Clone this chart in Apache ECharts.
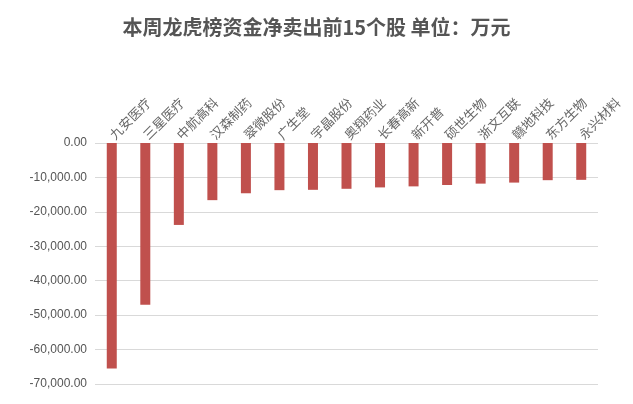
<!DOCTYPE html><html><head><meta charset="utf-8"><script src="https://cdn.jsdelivr.net/npm/echarts@6/dist/echarts.min.js"></script></head><body style="margin:0"><div id="c" style="width:633px;height:404px"></div><script>
const categories=['九安医疗','三星医疗','中航高科','汉森制药','翠微股份','广生堂','宇晶股份','奥翔药业','长春高新','新开普','硕世生物','浙文互联','赣地科技','东方生物','永兴材料'];
const values=[-65500,-47000,-23800,-16600,-14600,-13700,-13600,-13300,-12900,-12600,-12200,-11800,-11500,-10800,-10700];
const c=echarts.init(document.getElementById('c'));
c.setOption({backgroundColor:'#fff',
title:{text:'本周龙虎榜资金净卖出前15个股 单位：万元',left:'center',top:12,textStyle:{fontSize:20,fontWeight:'bold',color:'#555',fontFamily:'Noto Sans CJK SC'}},
grid:{left:95,right:35,top:143,bottom:20},
xAxis:{type:'category',position:'top',data:categories,axisLine:{show:false},axisTick:{show:false},axisLabel:{rotate:45,interval:0,color:'#666',fontSize:13,margin:6,fontFamily:'Noto Sans CJK SC'}},
yAxis:{type:'value',min:-70000,max:0,interval:10000,axisLabel:{color:'#555',fontSize:12,formatter:v=>v.toLocaleString('en-US',{minimumFractionDigits:2})},splitLine:{lineStyle:{color:'#d9d9d9'}}},
series:[{type:'bar',data:values,barWidth:10,itemStyle:{color:'#c0504d'}}]});
</script></body></html>
